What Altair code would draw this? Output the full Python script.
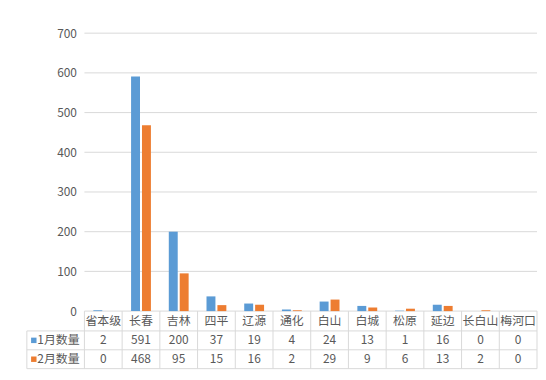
import altair as alt
import pandas as pd

categories = ["省本级", "长春", "吉林", "四平", "辽源", "通化", "白山", "白城", "松原", "延边", "长白山", "梅河口"]
jan = [2, 591, 200, 37, 19, 4, 24, 13, 1, 16, 0, 0]
feb = [0, 468, 95, 15, 16, 2, 29, 9, 6, 13, 2, 0]
series_names = ["1月数量", "2月数量"]
series_values = [jan, feb]
colors = ["#5B9BD5", "#ED7D31"]
y_ticks = [0, 100, 200, 300, 400, 500, 600, 700]

FONT = "Noto Sans CJK SC"
TXT = "#595959"
LINE = "#d9d9d9"
W, H = 456, 280
BAND = W / len(categories)
CAT_H, ROW_H = 20, 19
LBL_X = -58

xscale = alt.Scale(domain=categories, paddingInner=0, paddingOuter=0)
yscale = alt.Scale(domain=[0, 700])
X = alt.X("cat:N", sort=categories, scale=xscale, axis=None)
yaxis = alt.Axis(
    values=y_ticks, grid=False,
    domain=False, ticks=False, labelPadding=8, labelColor=TXT,
    labelFontSize=12, labelFont=FONT, title=None,
)

layers = []

# gridlines (through the y scale)
grid_df = pd.DataFrame({"v": y_ticks})
layers.append(
    alt.Chart(grid_df).mark_rule(color=LINE, strokeWidth=1).encode(
        y=alt.Y("v:Q", scale=yscale, axis=yaxis),
        x=alt.value(0), x2=alt.value(W),
    )
)

# bars
offsets = [BAND / 2 - 5.5, BAND / 2 + 5.5]
for i, name in enumerate(series_names):
    df = pd.DataFrame({"cat": categories, "value": series_values[i]})
    layers.append(
        alt.Chart(df).mark_bar(width=9, color=colors[i]).encode(
            x=X,
            y=alt.Y("value:Q", scale=yscale, axis=yaxis),
            xOffset=alt.value(offsets[i]),
        )
    )

cat_df = pd.DataFrame({"cat": categories})

# category row
layers.append(
    alt.Chart(cat_df).mark_text(font=FONT, fontSize=12, color=TXT).encode(
        x=X, text="cat:N", y=alt.value(H + CAT_H / 2)
    )
)

# value rows + row labels
for i, name in enumerate(series_names):
    df = pd.DataFrame({"cat": categories, "value": series_values[i]})
    yc = H + CAT_H + ROW_H * i + ROW_H / 2
    layers.append(
        alt.Chart(df).mark_text(font=FONT, fontSize=12, color=TXT).encode(
            x=X, text="value:Q", y=alt.value(yc)
        )
    )
    lab = pd.DataFrame({"series": [name]})
    layers.append(
        alt.Chart(lab).mark_square(size=30, color=colors[i], opacity=1).encode(
            x=alt.value(LBL_X + 7), y=alt.value(yc)
        )
    )
    layers.append(
        alt.Chart(lab).mark_text(font=FONT, fontSize=12, color=TXT, align="left").encode(
            x=alt.value(LBL_X + 10.5), y=alt.value(yc), text="series:N"
        )
    )

TABLE_BOTTOM = H + CAT_H + 2 * ROW_H

# vertical table lines
layers.append(
    alt.Chart(cat_df).mark_rule(color=LINE, strokeWidth=1).encode(
        x=alt.X("cat:N", sort=categories, scale=xscale, axis=None, bandPosition=0),
        y=alt.value(H), y2=alt.value(TABLE_BOTTOM),
    )
)
last_df = pd.DataFrame({"cat": [categories[-1]]})
layers.append(
    alt.Chart(last_df).mark_rule(color=LINE, strokeWidth=1).encode(
        x=alt.X("cat:N", sort=categories, scale=xscale, axis=None, bandPosition=1),
        y=alt.value(H), y2=alt.value(TABLE_BOTTOM),
    )
)
# left border of row-label column
layers.append(
    alt.Chart(lab).mark_rule(color=LINE, strokeWidth=1).encode(
        x=alt.value(LBL_X), y=alt.value(H + CAT_H), y2=alt.value(TABLE_BOTTOM)
    )
)
# horizontal table lines
for k in range(3):
    yy = H + CAT_H + ROW_H * k
    layers.append(
        alt.Chart(lab).mark_rule(color=LINE, strokeWidth=1).encode(
            y=alt.value(yy), x=alt.value(LBL_X), x2=alt.value(W)
        )
    )

chart = (
    alt.layer(*layers)
    .properties(
        width=W, height=H,
        autosize=alt.AutoSizeParams(type="none"),
        padding={"left": 77, "top": 24, "right": 1, "bottom": TABLE_BOTTOM - H + 1},
    )
    .configure_view(stroke=None)
)

chart.save("out.html", embed_options={"renderer": "svg", "actions": False})
